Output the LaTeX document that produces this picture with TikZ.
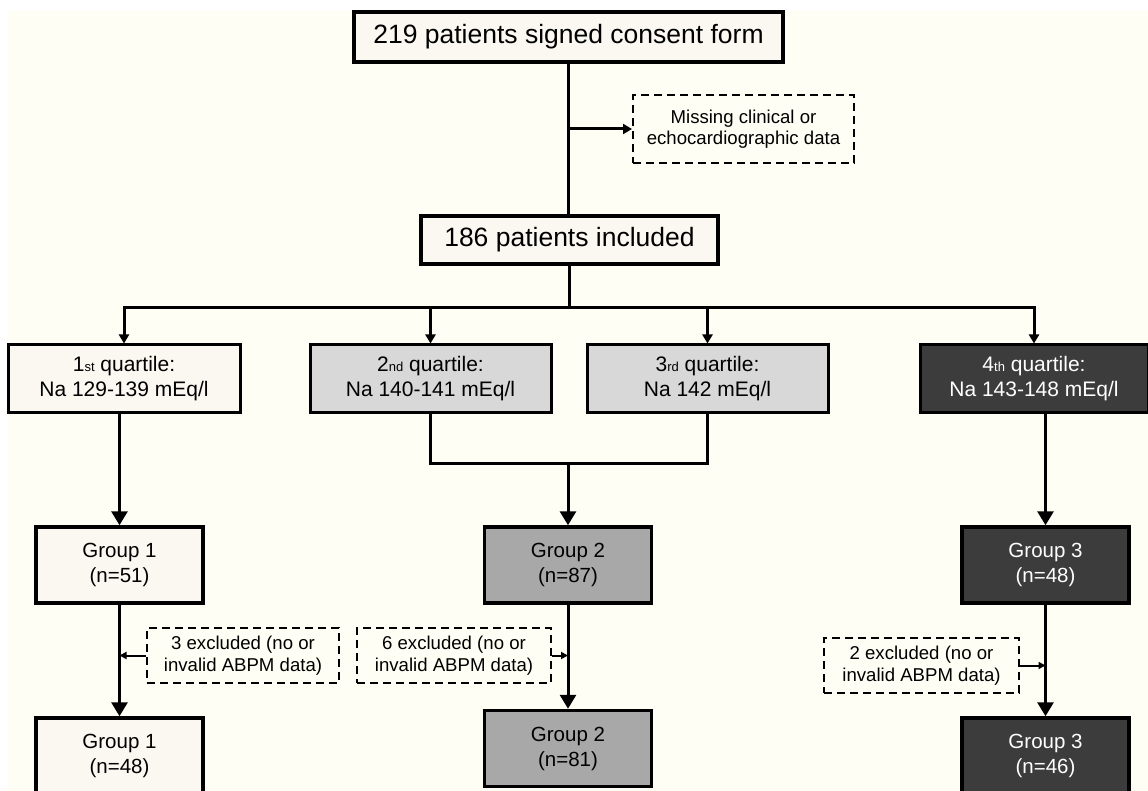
\documentclass[tikz,border=0pt]{standalone}
\usepackage{fontspec}
\setmainfont{Liberation Sans}
\usetikzlibrary{arrows.meta}
\usepackage{xcolor}
\definecolor{paper}{HTML}{FFFEF4}
\definecolor{boxwhite}{HTML}{FAF8F1}
\definecolor{lightgrey}{HTML}{D8D8D8}
\definecolor{midgrey}{HTML}{A8A8A8}
\definecolor{darkgrey}{HTML}{3C3C3C}
\tikzset{
    flowbox/.style={draw,line width=3.5pt,fill=boxwhite,align=center,inner sep=0pt},
    headbox/.style={flowbox,font=\fontsize{26.5}{30}\selectfont},
    quartbox/.style={flowbox,line width=3pt,minimum height=67pt,font=\fontsize{21}{25}\selectfont},
    groupbox/.style={flowbox,minimum width=167pt,minimum height=76pt,font=\fontsize{20.5}{25}\selectfont},
    exclbox/.style={draw,line width=2pt,dash pattern=on 8pt off 5pt,fill=paper,align=center,inner sep=0pt,
        minimum height=55pt,font=\fontsize{18.6}{21.5}\selectfont},
    tap/.style={-{Triangle[width=10pt,length=9pt]}},
    bigtip/.style={-{Triangle[width=16pt,length=14pt]}},
    sidetip/.style={line width=2pt,-{Triangle[width=7pt,length=7pt]}}
}
\newcommand{\ordsuf}[1]{{\fontsize{13}{13}\selectfont #1}}
\newcommand{\exclnode}[5]{
    \node[exclbox,minimum width=#4pt] (#1) at (#2, #3) {#5 excluded (no or\\invalid ABPM data)};
}
\newcommand{\groupnode}[6]{
    \node[groupbox,#6] (#1) at (#2, #3) {Group #4\\(n=#5)};
}

\begin{document}
\begin{tikzpicture}[x=1pt,y=-1pt]
        \useasboundingbox (0,0) rectangle (1148,791);
        \fill[white] (0,0) rectangle (1148,791);
        \fill[paper] (8,11) rectangle (1148,791);

        \node[headbox,minimum width=429pt,minimum height=50pt] (consent) at (568.5, 37) {219 patients signed consent form};
        \node[exclbox,minimum width=221pt,minimum height=68pt] (missing) at (743.5, 129) {Missing clinical or\\echocardiographic data};
        \node[headbox,minimum width=297pt,minimum height=48pt] (included) at (569.5, 240) {186 patients included};

        \node[quartbox,minimum width=232pt] (q1) at (124, 378.5) {1\ordsuf{st} quartile:\\Na 129-139 mEq/l};
        \node[quartbox,fill=lightgrey,minimum width=241pt] (q2) at (430.5, 378.5) {2\ordsuf{nd} quartile:\\Na 140-141 mEq/l};
        \node[quartbox,fill=lightgrey,minimum width=241pt] (q3) at (707.5, 378.5) {3\ordsuf{rd} quartile:\\Na 142 mEq/l};
        \node[quartbox,fill=darkgrey,text=white,minimum width=228pt] (q4) at (1034, 378.5) {4\ordsuf{th} quartile:\\Na 143-148 mEq/l};

        \groupnode{g1a}{119.5}{565}{1}{51}{}
        \groupnode{g2a}{568}{565}{2}{87}{fill=midgrey}
        \groupnode{g3a}{1045.5}{565}{3}{48}{fill=darkgrey,text=white}
        \groupnode{g1b}{119.5}{756}{1}{48}{}
        \groupnode{g2b}{568}{748.5}{2}{81}{fill=midgrey}
        \groupnode{g3b}{1045.5}{756}{3}{46}{fill=darkgrey,text=white}

        \exclnode{ex1}{243}{655.5}{192}{3}
        \exclnode{ex2}{454}{655.5}{194}{6}
        \exclnode{ex3}{921.5}{665.5}{195}{2}

        \coordinate (bus) at (569, 308);
        \coordinate (merge) at (568, 463);

        \begin{scope}[every path/.style={line width=3pt}]
            \draw (consent.south) -- (consent.south |- included.north);
            \draw[tap] (consent.south |- missing.west) -- (missing.west);
            \draw (included.south) -- (included.south |- bus);
            \draw[tap] (bus) -| (q1.north);
            \draw[tap] (bus) -| (q4.north);
            \draw[tap] (q2.north |- bus) -- (q2.north);
            \draw[tap] (q3.north |- bus) -- (q3.north);
            \draw (q2.south) |- (merge) -| (q3.south);
            \draw[bigtip] (q1.south -| g1a.north) -- (g1a.north);
            \draw[bigtip] (merge) -- (g2a.north);
            \draw[bigtip] (q4.south -| g3a.north) -- (g3a.north);
            \draw[bigtip] (g1a.south) -- (g1b.north);
            \draw[bigtip] (g2a.south) -- (g2b.north);
            \draw[bigtip] (g3a.south) -- (g3b.north);
            \draw[sidetip] (ex1.west) -- (ex1.west -| g1a.south);
            \draw[sidetip] (ex2.east) -- (ex2.east -| g2a.south);
            \draw[sidetip] (ex3.east) -- (ex3.east -| g3a.south);
        \end{scope}
    \end{tikzpicture}
\end{document}
